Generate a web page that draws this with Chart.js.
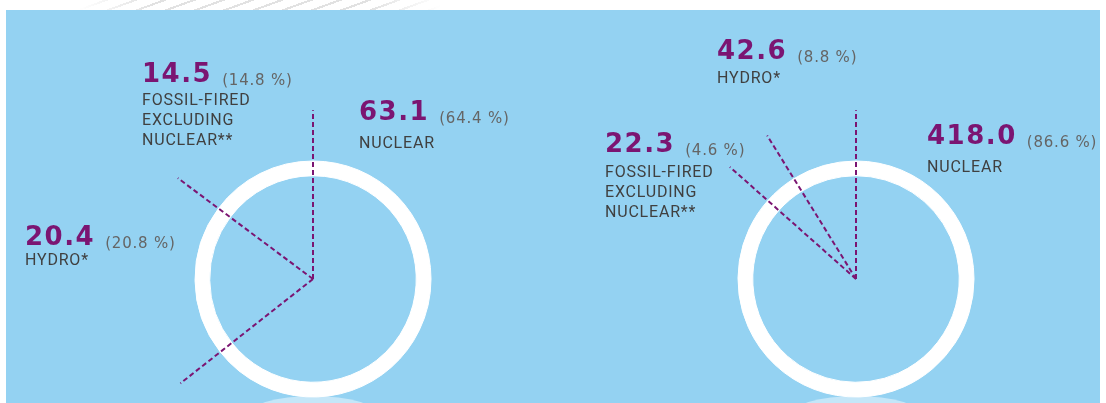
<!DOCTYPE html>
<html><head><meta charset="utf-8">
<script src="https://cdn.jsdelivr.net/npm/chart.js@4.4.1/dist/chart.umd.min.js"></script>
<style>
html,body{margin:0;padding:0;background:#fff;}
#wrap{position:relative;width:1106px;height:403px;overflow:hidden;background:#fff;}
#top{position:absolute;left:80px;top:0;width:360px;height:10px;background:repeating-linear-gradient(160deg, rgba(0,0,0,0) 0 8px, rgba(170,170,170,0.35) 8px 10px);-webkit-mask-image:linear-gradient(90deg,transparent,#000 20%,#000 80%,transparent);}
#panel{position:absolute;left:6px;top:10px;width:1094px;height:393px;background:#94d2f2;}
.refl{position:absolute;top:396px;width:132px;height:40px;border-radius:50%;background:#c4e6f8;}
canvas{position:absolute;left:0;top:0;}
</style></head><body>
<div id="wrap">
 <div id="top"></div>
 <div id="panel"></div>
 <div class="refl" style="left:247px"></div>
 <div class="refl" style="left:790px"></div>
 <canvas id="c1" width="1106" height="403"></canvas>
 <canvas id="c2" width="1106" height="403"></canvas>
</div>
<script>
// ---- data ----
const categoriesLeft = [['NUCLEAR'], ['HYDRO*'], ['FOSSIL-FIRED', 'EXCLUDING', 'NUCLEAR**']];
const valuesLeft = [63.1, 20.4, 14.5];
const categoriesRight = [['NUCLEAR'], ['FOSSIL-FIRED', 'EXCLUDING', 'NUCLEAR**'], ['HYDRO*']];
const valuesRight = [418.0, 22.3, 42.6];

// ---- layout (positions / styles) ----
const PURPLE = '#7b1572';
const layoutLeft = {cx: 313, cy: 279, labels: [
  {x: 359, y: 120, ly: 148}, {x: 25, y: 245, ly: 265}, {x: 142, y: 82, ly: 105}]};
const layoutRight = {cx: 856, cy: 279, labels: [
  {x: 927, y: 144, ly: 172}, {x: 605, y: 152, ly: 177}, {x: 717, y: 59, ly: 83}]};

const calloutPlugin = {
  id: 'callouts',
  afterDatasetsDraw(chart, args, opts) {
    const ctx = chart.ctx;
    const meta = chart.getDatasetMeta(0);
    const ds = chart.data.datasets[0];
    const total = ds.data.reduce((a, b) => a + b, 0);
    ctx.save();
    ctx.strokeStyle = PURPLE; ctx.lineWidth = 2; ctx.setLineDash([5, 3]);
    meta.data.forEach(arc => {
      const L = arc.outerRadius * 1.43;
      ctx.beginPath();
      ctx.moveTo(arc.x, arc.y);
      ctx.lineTo(arc.x + L * Math.cos(arc.startAngle), arc.y + L * Math.sin(arc.startAngle));
      ctx.stroke();
    });
    ctx.setLineDash([]);
    ctx.textBaseline = 'alphabetic'; ctx.textAlign = 'left';
    ds.data.forEach((v, i) => {
      const p = opts.layout[i];
      const s = v.toFixed(1);
      ctx.font = 'bold 26px "DejaVu Sans"'; ctx.letterSpacing = '1.5px'; ctx.fillStyle = PURPLE;
      ctx.fillText(s, p.x, p.y);
      const w = ctx.measureText(s).width;
      ctx.font = '15px "DejaVu Sans"'; ctx.letterSpacing = '0.8px'; ctx.fillStyle = '#656565';
      ctx.fillText('(' + (v / total * 100).toFixed(1) + ' %)', p.x + w + 10, p.y + 3);
      ctx.font = '16px Roboto'; ctx.letterSpacing = '0.8px'; ctx.fillStyle = '#404040';
      chart.data.labels[i].forEach((line, k) => ctx.fillText(line, p.x, p.ly + k * 20));
    });
    ctx.restore();
  }
};

function makeChart(id, labels, values, layout) {
  return new Chart(document.getElementById(id), {
    type: 'doughnut',
    data: {labels: labels, datasets: [{data: values, backgroundColor: '#ffffff', borderColor: '#ffffff', borderWidth: 1, hoverOffset: 0}]},
    options: {
      responsive: false, animation: false, events: [],
      radius: 118, cutout: '87.5%',
      layout: {padding: {left: layout.cx - 100, right: 1106 - layout.cx - 100, top: layout.cy - 100, bottom: 403 - layout.cy - 100}},
      plugins: {legend: {display: false}, tooltip: {enabled: false}, callouts: {layout: layout.labels}}
    },
    plugins: [calloutPlugin]
  });
}
makeChart('c1', categoriesLeft, valuesLeft, layoutLeft);
makeChart('c2', categoriesRight, valuesRight, layoutRight);
</script>
</body></html>
